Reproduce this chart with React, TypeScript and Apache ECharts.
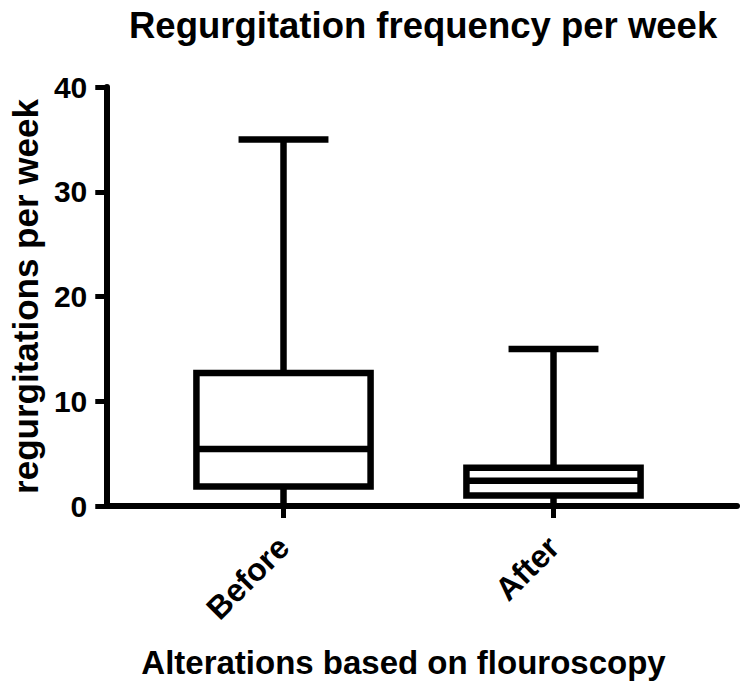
import React, { useEffect, useRef } from "react";
import * as echarts from "echarts";

const categories = ["Before", "After"];
const mins = [0, 0];
const q1s = [1.85, 1.0];
const medians = [5.45, 2.4];
const q3s = [12.7, 3.65];
const maxs = [35, 15];
const yTicks = { min: 0, max: 40, interval: 10 };

const FONT = "'Liberation Sans', Arial, Helvetica, sans-serif";

export default function App() {
  const ref = useRef<HTMLDivElement>(null);
  useEffect(() => {
    if (!ref.current) return;
    const chart = echarts.init(ref.current, null, { renderer: "svg" });
    const data = categories.map((_, i) => [i, mins[i], q1s[i], medians[i], q3s[i], maxs[i]]);
    const option: any = {
      animation: false,
      backgroundColor: "#ffffff",
      title: {
        text: "Regurgitation frequency per week",
        left: 124,
        top: 2,
        textStyle: { fontFamily: FONT, fontWeight: "bold", fontSize: 36.5, color: "#000" },
      },
      grid: [
        { left: 103, right: 5, top: 87, bottom: 180 },
        { left: 148.5, width: 540, top: 87, bottom: 180 },
      ],
      xAxis: [
        {
          type: "value",
          gridIndex: 0,
          min: 0,
          max: 1,
          axisLine: { show: true, lineStyle: { color: "#000", width: 6 } },
          axisTick: { show: false },
          axisLabel: { show: false },
          splitLine: { show: false },
        },
        {
          type: "category",
          gridIndex: 1,
          data: categories,
          axisLine: { show: false },
          axisTick: { show: true, alignWithLabel: true, length: 12, lineStyle: { color: "#000", width: 5 } },
          axisLabel: {
            rotate: 45,
            margin: 36,
            fontFamily: FONT,
            fontWeight: "bold",
            fontSize: 32,
            color: "#000",
          },
          splitLine: { show: false },
          name: "Alterations based on flouroscopy",
          nameLocation: "middle",
          nameGap: 140,
          nameTextStyle: {
            fontFamily: FONT,
            fontWeight: "bold",
            fontSize: 33,
            color: "#000",
            padding: [0, 30, 0, 0],
          },
        },
      ],
      yAxis: [
        {
          type: "value",
          gridIndex: 0,
          min: yTicks.min,
          max: yTicks.max,
          interval: yTicks.interval,
          axisLine: { show: true, lineStyle: { color: "#000", width: 6 } },
          axisTick: { show: true, length: 11, lineStyle: { color: "#000", width: 5 } },
          axisLabel: { margin: 19, fontFamily: FONT, fontWeight: "bold", fontSize: 30, color: "#000" },
          splitLine: { show: false },
          name: "regurgitations per week",
          nameLocation: "middle",
          nameGap: 58,
          nameRotate: 90,
          nameTextStyle: { fontFamily: FONT, fontWeight: "bold", fontSize: 35, color: "#000" },
        },
        {
          type: "value",
          gridIndex: 1,
          min: yTicks.min,
          max: yTicks.max,
          interval: yTicks.interval,
          show: false,
        },
      ],
      series: [
        {
          type: "custom",
          xAxisIndex: 1,
          yAxisIndex: 1,
          data,
          encode: { x: 0, y: [1, 2, 3, 4, 5] },
          renderItem: (params: any, api: any) => {
            const cat = api.value(0);
            const vMin = api.value(1);
            const vQ1 = api.value(2);
            const vMed = api.value(3);
            const vQ3 = api.value(4);
            const vMax = api.value(5);
            const band = api.size([1, 0])[0];
            const bw = band * 0.645;
            const cw = band * 0.333;
            const pMin = api.coord([cat, vMin]);
            const pQ1 = api.coord([cat, vQ1]);
            const pMed = api.coord([cat, vMed]);
            const pQ3 = api.coord([cat, vQ3]);
            const pMax = api.coord([cat, vMax]);
            const x = pMin[0];
            const st = { stroke: "#000", lineWidth: 6.5, fill: null };
            return {
              type: "group",
              children: [
                { type: "line", shape: { x1: x, y1: pQ3[1], x2: x, y2: pMax[1] }, style: st },
                { type: "line", shape: { x1: x, y1: pQ1[1], x2: x, y2: pMin[1] }, style: st },
                { type: "line", shape: { x1: x - cw / 2, y1: pMax[1], x2: x + cw / 2, y2: pMax[1] }, style: st },
                {
                  type: "rect",
                  shape: { x: x - bw / 2, y: pQ3[1], width: bw, height: pQ1[1] - pQ3[1] },
                  style: { stroke: "#000", lineWidth: 6.5, fill: "#fff" },
                },
                { type: "line", shape: { x1: x - bw / 2, y1: pMed[1], x2: x + bw / 2, y2: pMed[1] }, style: st },
              ],
            };
          },
        },
      ],
    };
    chart.setOption(option);
    return () => chart.dispose();
  }, []);
  return (
    <div
      ref={ref}
      style={{ position: "fixed", left: 0, top: 0, width: 742, height: 686 }}
    />
  );
}
